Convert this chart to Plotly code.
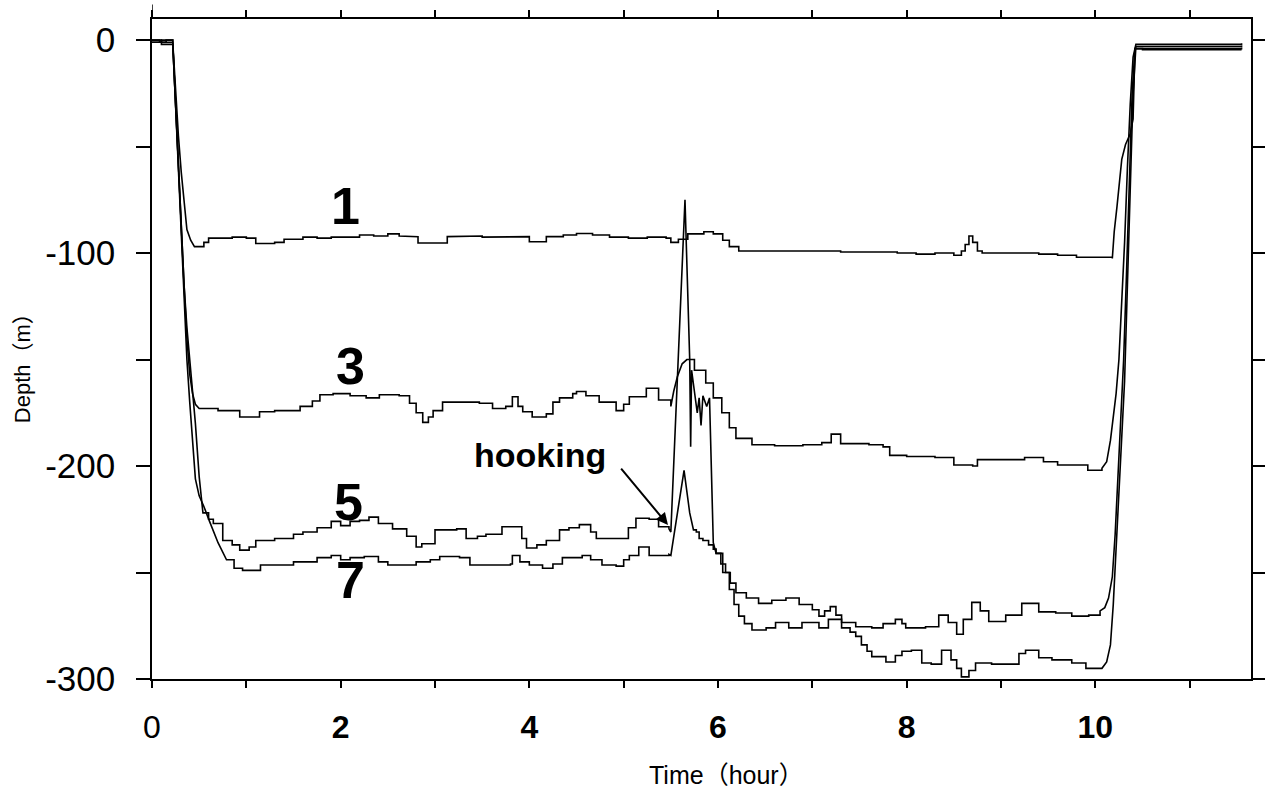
import plotly.graph_objects as go

# ---- data (time in hours, depth in m) ----
hook1 = [(0, 0), (0.08, -1), (0.15, 0), (0.22, -1), (0.25, -25), (0.28, -45), (0.31, -62), (0.34, -76),
         (0.37, -89), (0.41, -94), (0.45, -97), (0.50, -97), (0.55, -95), (0.60, -93), (0.75, -93),
         (0.85, -92.5), (1.00, -93), (1.10, -95.5), (1.30, -95), (1.40, -93.5), (1.60, -92.5), (1.75, -93),
         (1.90, -92.5), (2.20, -91.5), (2.35, -92), (2.50, -91), (2.62, -92), (2.73, -92.3), (2.82, -95.3),
         (3.13, -92.3), (3.30, -92), (3.50, -92.5), (3.70, -92.3), (4.00, -94.7), (4.18, -92.3),
         (4.36, -91.5), (4.50, -90.8), (4.67, -91.5), (4.85, -92.5), (5.05, -93), (5.25, -92.5),
         (5.45, -93), (5.50, -95), (5.58, -93.5), (5.68, -91), (5.85, -90), (5.95, -91), (6.05, -94),
         (6.12, -97), (6.22, -99), (6.50, -99), (7.00, -99), (7.30, -99.5), (7.60, -99.5), (7.90, -100),
         (8.10, -100.5), (8.30, -100), (8.50, -101), (8.58, -99), (8.62, -96), (8.66, -92), (8.70, -95),
         (8.75, -99), (8.80, -100), (9.10, -100), (9.40, -100.5), (9.60, -101), (9.80, -102), (10.00, -102),
         (10.18, -102.5), (10.20, -90), (10.23, -78), (10.26, -65), (10.28, -56), (10.32, -49),
         (10.37, -44), (10.40, -37), (10.42, -4), (10.50, -4.5), (11.55, -4.5)]

hook3 = [(0, -1), (0.10, -2), (0.22, -2), (0.25, -30), (0.28, -60), (0.31, -90), (0.34, -115), (0.37, -140),
         (0.40, -157), (0.43, -166), (0.46, -171), (0.50, -173), (0.70, -174), (0.86, -174), (0.93, -177),
         (1.14, -174.5), (1.30, -174), (1.57, -172), (1.70, -169.5), (1.78, -166.5), (1.92, -166),
         (2.10, -167), (2.27, -168), (2.41, -166.5), (2.62, -167), (2.73, -170.5), (2.80, -175),
         (2.87, -179.5), (2.93, -177), (2.98, -174), (3.08, -170), (3.26, -170), (3.47, -170.5),
         (3.61, -173), (3.75, -172), (3.82, -167.5), (3.88, -172), (3.93, -174.5), (4.03, -177),
         (4.18, -175.5), (4.25, -170), (4.32, -168), (4.46, -166), (4.50, -165), (4.60, -167),
         (4.74, -170), (4.92, -174), (5.00, -171), (5.06, -167.5), (5.24, -163.5), (5.37, -169),
         (5.50, -172), (5.53, -165), (5.57, -158), (5.62, -152), (5.67, -150), (5.75, -155), (5.87, -161),
         (5.95, -168), (6.04, -175), (6.12, -182), (6.19, -187), (6.36, -190), (6.60, -190.5),
         (6.90, -190), (7.10, -189), (7.20, -185), (7.30, -189.5), (7.60, -190), (7.75, -191),
         (7.82, -195), (8.00, -195.5), (8.30, -196), (8.50, -199.5), (8.70, -200), (8.75, -197),
         (9.00, -197), (9.25, -196), (9.45, -198), (9.60, -199.5), (9.92, -202), (10.07, -201),
         (10.12, -198), (10.16, -188), (10.19, -178), (10.22, -166), (10.25, -150), (10.28, -125),
         (10.31, -95), (10.34, -60), (10.37, -30), (10.40, -8), (10.43, -2), (11.55, -1.5)]

hook5 = [(0, 0), (0.10, -1), (0.22, -1), (0.25, -30), (0.28, -60), (0.31, -90), (0.34, -115), (0.37, -135),
         (0.40, -150), (0.43, -162), (0.46, -180), (0.50, -205), (0.54, -222), (0.60, -225), (0.65, -227),
         (0.75, -235), (0.85, -237), (0.93, -239.5), (1.03, -238), (1.10, -235), (1.30, -234),
         (1.50, -232), (1.60, -231), (1.75, -229), (1.90, -226), (2.00, -228), (2.10, -226),
         (2.20, -225.5), (2.30, -224), (2.40, -227), (2.55, -229.5), (2.70, -233), (2.80, -238),
         (2.86, -236.5), (3.00, -230), (3.23, -229.5), (3.33, -234), (3.45, -233), (3.54, -232),
         (3.71, -228.5), (3.86, -228.5), (3.92, -234), (3.97, -238.5), (4.08, -237), (4.18, -235),
         (4.32, -230), (4.42, -229), (4.53, -227.5), (4.65, -231), (4.71, -234), (4.95, -234),
         (5.05, -229), (5.13, -224.5), (5.27, -225), (5.37, -228.5), (5.48, -229.5), (5.50, -231),
         (5.65, -75), (5.70, -150), (5.71, -191), (5.72, -155),
         (5.75, -165), (5.78, -175), (5.80, -168), (5.82, -181), (5.84, -167), (5.88, -172),
         (5.91, -168), (5.95, -236), (5.98, -241), (6.05, -250), (6.12, -258),
         (6.17, -265), (6.22, -270.5), (6.28, -274), (6.36, -277), (6.51, -276), (6.61, -273.5),
         (6.75, -276), (6.89, -273.5), (7.07, -276), (7.17, -272), (7.31, -276), (7.40, -278),
         (7.46, -280), (7.52, -284), (7.58, -287), (7.63, -289.5), (7.78, -292), (7.88, -289),
         (7.95, -287), (8.05, -286.5), (8.16, -292.5), (8.26, -293), (8.37, -286.5), (8.47, -291),
         (8.53, -295), (8.58, -299), (8.66, -296), (8.73, -292.5), (8.90, -293), (9.05, -293),
         (9.19, -288), (9.26, -286.5), (9.40, -290), (9.54, -291), (9.75, -292.5), (9.90, -295),
         (10.07, -295), (10.12, -292), (10.16, -284), (10.19, -265), (10.22, -240), (10.25, -215),
         (10.28, -190), (10.31, -160), (10.34, -115), (10.37, -70), (10.40, -25), (10.43, -3),
         (11.55, -2.5)]

hook7 = [(0, -1), (0.10, 0), (0.22, -1), (0.25, -30), (0.28, -60), (0.31, -92), (0.34, -120), (0.37, -150),
         (0.40, -170), (0.43, -190), (0.46, -206), (0.50, -214), (0.55, -219), (0.61, -226), (0.70, -236),
         (0.79, -244), (0.87, -248), (0.96, -249), (1.07, -249), (1.15, -246.5), (1.35, -246.5),
         (1.50, -245), (1.60, -245), (1.75, -243), (1.90, -242), (2.00, -244), (2.10, -243),
         (2.25, -242.5), (2.40, -245), (2.50, -246.5), (2.65, -246.5), (2.80, -245), (2.95, -244),
         (3.05, -242.5), (3.26, -243), (3.37, -246.5), (3.54, -246.5), (3.80, -246), (3.82, -242),
         (3.90, -245), (4.00, -246.5), (4.14, -248), (4.25, -246), (4.35, -243), (4.56, -242),
         (4.65, -244), (4.77, -246.5), (4.92, -247), (5.00, -244), (5.06, -242), (5.16, -238),
         (5.24, -238), (5.27, -242), (5.48, -241.5), (5.50, -242), (5.64, -202), (5.67, -212),
         (5.70, -222), (5.74, -230),
         (5.77, -231), (5.80, -234), (5.84, -235), (5.90, -237), (5.95, -239), (5.98, -241),
         (6.03, -246), (6.08, -250), (6.13, -255), (6.19, -259.5), (6.30, -262), (6.43, -264.5),
         (6.57, -263), (6.72, -262), (6.86, -265), (7.00, -267.5), (7.07, -270.5), (7.13, -268),
         (7.19, -266), (7.25, -270), (7.31, -273.5), (7.46, -275.5), (7.63, -276), (7.75, -274),
         (7.88, -272), (7.95, -274), (7.99, -276), (8.20, -275.5), (8.34, -270), (8.44, -273.5),
         (8.53, -279), (8.60, -272), (8.69, -264), (8.78, -268), (8.87, -273), (9.05, -270),
         (9.22, -264.5), (9.40, -268.5), (9.58, -269), (9.75, -270.5), (9.93, -270), (10.05, -268),
         (10.10, -266.5), (10.14, -262), (10.18, -252), (10.21, -232), (10.24, -205), (10.27, -180),
         (10.30, -150), (10.33, -110), (10.36, -65), (10.39, -25), (10.42, -4), (11.55, -3.5)]

# time windows in which the recorder trace runs as a straight line (descent, ascent, hooking spikes)
linear_windows = {
    "1": [(0.20, 0.50), (10.15, 10.45)],
    "3": [(0.20, 0.50), (5.48, 5.68), (10.05, 10.45)],
    "5": [(0.20, 0.56), (5.48, 5.99), (10.05, 10.45)],
    "7": [(0.20, 0.80), (5.48, 5.75), (10.05, 10.45)],
}

series = {"1": hook1, "3": hook3, "5": hook5, "7": hook7}

# curve labels: (name, time, depth)
curve_labels = [("1", 2.05, -78), ("3", 2.10, -153), ("5", 2.08, -217), ("7", 2.10, -253.5)]

x_ticks = list(range(0, 12))
x_ticktext = ["0", "", "<b>2</b>", "", "<b>4</b>", "", "<b>6</b>", "", "<b>8</b>", "", "<b>10</b>", ""]
y_ticks = [-300, -250, -200, -150, -100, -50, 0]
y_ticktext = ["-300", "", "-200", "", "-100", "", "0"]

FONT = "Liberation Sans, Arial, Helvetica, sans-serif"


def trace_path(pts, windows):
    """Staircase (hv) between readings, straight segments inside the given windows."""
    xs, ys = [pts[0][0]], [pts[0][1]]
    for (t0, d0), (t1, d1) in zip(pts[:-1], pts[1:]):
        mid = 0.5 * (t0 + t1)
        straight = any(a <= mid <= b for a, b in windows)
        if not straight:
            xs.append(t1)
            ys.append(d0)
        xs.append(t1)
        ys.append(d1)
    return xs, ys


fig = go.Figure()
for name, pts in series.items():
    xs, ys = trace_path(pts, linear_windows[name])
    fig.add_trace(go.Scatter(x=xs, y=ys, mode="lines",
                             line=dict(color="black", width=1.6), name=name,
                             hoverinfo="skip"))

annotations = []
for name, tx, dy in curve_labels:
    annotations.append(dict(x=tx, y=dy, xref="x", yref="y", text=f"<b>{name}</b>", showarrow=False,
                            font=dict(family=FONT, size=52, color="black")))
annotations.append(dict(x=4.11, y=-195, xref="x", yref="y", text="<b>hooking</b>", showarrow=False,
                        font=dict(family=FONT, size=34, color="black")))
annotations.append(dict(x=5.47, y=-227.7, xref="x", yref="y", ax=4.96, ay=-200.5, axref="x", ayref="y",
                        text="", showarrow=True, arrowhead=2, arrowsize=1.2, arrowwidth=2,
                        arrowcolor="black"))
annotations.append(dict(x=0.523, y=-0.1455, xref="paper", yref="paper", text="Time（hour）",
                        showarrow=False, xanchor="center", yanchor="middle",
                        font=dict(family=FONT + ", Noto Sans CJK JP", size=25, color="black")))
annotations.append(dict(x=-0.1183, y=0.48, xref="paper", yref="paper", text="Depth（m）",
                        showarrow=False, textangle=-90, xanchor="center", yanchor="middle",
                        font=dict(family=FONT + ", Noto Sans CJK JP", size=22, color="black")))

fig.update_layout(
    width=1265, height=790,
    margin=dict(l=152, r=14, t=19, b=111, autoexpand=False),
    paper_bgcolor="white", plot_bgcolor="white",
    showlegend=False,
    annotations=annotations,
    shapes=[dict(type="line", xref="x", yref="paper", x0=0, x1=0, y0=1, y1=1.022,
                 line=dict(color="black", width=1.5))],
    xaxis=dict(range=[0, 11.65], tickmode="array", tickvals=x_ticks, ticktext=x_ticktext,
               ticks="outside", ticklen=7, tickwidth=1.5, tickcolor="black", automargin=False,
               showline=True, linecolor="black", linewidth=1.5, mirror="ticks",
               showgrid=False, zeroline=False, ticklabelstandoff=12,
               tickfont=dict(family=FONT, size=32, color="black")),
    yaxis=dict(range=[-300, 9.9], tickmode="array", tickvals=y_ticks, ticktext=y_ticktext,
               ticks="outside", ticklen=14, tickwidth=1.5, tickcolor="black", automargin=False,
               showline=True, linecolor="black", linewidth=1.5, mirror="ticks",
               showgrid=False, zeroline=False, ticklabelstandoff=14,
               tickfont=dict(family=FONT, size=35, color="black")),
)

fig.write_html("out.html")
